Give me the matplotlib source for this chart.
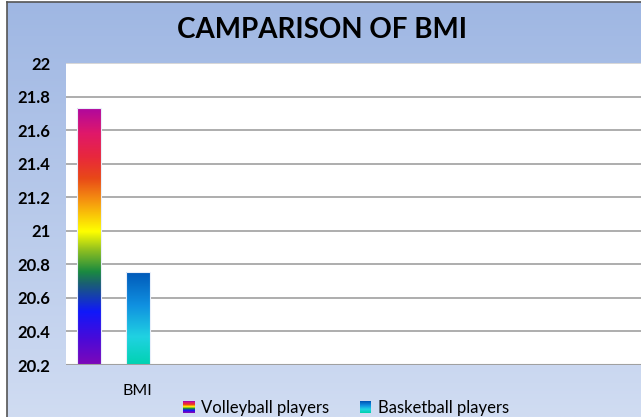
import numpy as np
import matplotlib
matplotlib.use('Agg')
import matplotlib.pyplot as plt
from matplotlib.colors import LinearSegmentedColormap
from matplotlib.patches import Rectangle
from matplotlib.legend_handler import HandlerBase

# Datos
categorias = ['BMI']
series = ['Volleyball players', 'Basketball players']
valores = [21.73, 20.755]
y_ticks = [20.2, 20.4, 20.6, 20.8, 21.0, 21.2, 21.4, 21.6, 21.8, 22.0]
y_labels = ['20.2', '20.4', '20.6', '20.8', '21', '21.2', '21.4', '21.6', '21.8', '22']

# Degradados (de abajo hacia arriba)
arcoiris = LinearSegmentedColormap.from_list('arcoiris', [
    (0.0, '#7d08b8'), (0.1, '#4a0ad8'), (0.207, '#1018fa'), (0.318, '#1a6070'),
    (0.363, '#1a8a40'), (0.448, '#90c020'), (0.52, '#ffff00'), (0.644, '#f59010'),
    (0.728, '#e84818'), (0.81, '#e8283c'), (0.903, '#e0186a'), (1.0, '#b0089e')])
azules = LinearSegmentedColormap.from_list('azules', [
    (0.0, '#00d2b0'), (0.3, '#20d2e2'), (0.64, '#1090e0'), (1.0, '#0058b8')])
mapas = [arcoiris, azules]

fig = plt.figure(figsize=(6.41, 4.17), dpi=100)
fig.patch.set_facecolor('white')

# Fondo del área del gráfico con degradado
fondo = fig.add_axes([7 / 641, 0, 1 - 7 / 641, 415 / 417])
fondo.imshow(np.linspace(0, 1, 256).reshape(-1, 1), aspect='auto',
             cmap=LinearSegmentedColormap.from_list('fondo', ['#9fb7e3', '#d0dcf2']),
             extent=[0, 1, 0, 1], origin='upper')
fondo.set_xlim(0, 1)
fondo.set_ylim(0, 1)
fondo.axis('off')
fig.add_artist(plt.Line2D([7 / 641, 7 / 641], [0, 415 / 417], color='#555555', lw=1.2))
fig.add_artist(plt.Line2D([7 / 641, 1], [415 / 417, 415 / 417], color='#555555', lw=1.2))

ax = fig.add_axes([66 / 641, 52 / 417, 1 - 66 / 641, 302 / 417])
ax.set_facecolor('white')
ancho = 0.2
posiciones = [-0.205, 0.205]
ymin = 20.2
for i, (pos, val) in enumerate(zip(posiciones, valores)):
    barra = ax.bar(pos, val - ymin, bottom=ymin, width=ancho, facecolor='none',
                   edgecolor='#e8eefa', linewidth=0.8, zorder=3, label=series[i])[0]
    img = ax.imshow(np.linspace(1, 0, 256).reshape(-1, 1), aspect='auto', cmap=mapas[i],
                    extent=[pos - ancho / 2, pos + ancho / 2, ymin, val], zorder=2)
    img.set_clip_path(barra)

ax.set_xlim(-(113.5 - 66) / 120, -(113.5 - 66) / 120 + 575 / 120)
ax.set_ylim(20.2, 22.0)
ax.set_yticks(y_ticks)
ax.set_yticklabels(y_labels, fontsize=12, fontweight='bold', family='Lato')
ax.set_xticks([0.2])
ax.set_xticklabels(categorias, fontsize=11.5, family='Lato')
ax.tick_params(axis='both', length=0)
ax.tick_params(axis='y', pad=11)
ax.tick_params(axis='x', pad=14)
for y in y_ticks[1:-1]:
    ax.axhline(y, color='#a0a0a0', lw=1.2, zorder=1)
ax.axhline(22.0, color='#cfcfcf', lw=1.2, zorder=1)
ax.axhline(20.2, color='#a0a0a0', lw=1.5, zorder=4)
for s in ax.spines.values():
    s.set_visible(False)


class GradientHandler(HandlerBase):
    def __init__(self, cmap):
        super().__init__()
        self.cmap = cmap

    def create_artists(self, legend, orig_handle, xdescent, ydescent, width, height, fontsize, trans):
        n = 12
        artists = []
        for k in range(n):
            r = Rectangle((-xdescent, -ydescent + height * k / n), width, height / n + 0.3,
                          facecolor=self.cmap(k / (n - 1)), edgecolor='none', transform=trans)
            artists.append(r)
        return artists


handles = [Rectangle((0, 0), 1, 1), Rectangle((0, 1), 1, 1)]
leg = fig.legend(handles, series, loc='center', bbox_to_anchor=(346 / 641, 1 - 408 / 417),
                 ncol=2, frameon=False, prop={'family': 'Lato', 'size': 12},
                 handlelength=0.7, handleheight=0.7, handletextpad=0.4, columnspacing=1.8,
                 handler_map={handles[0]: GradientHandler(arcoiris), handles[1]: GradientHandler(azules)})

fig.text(322 / 641, 1 - 30 / 417, 'CAMPARISON OF BMI', ha='center', va='center',
         fontsize=20, fontweight='bold', family='Lato')

fig.savefig('out.png', dpi=100)
